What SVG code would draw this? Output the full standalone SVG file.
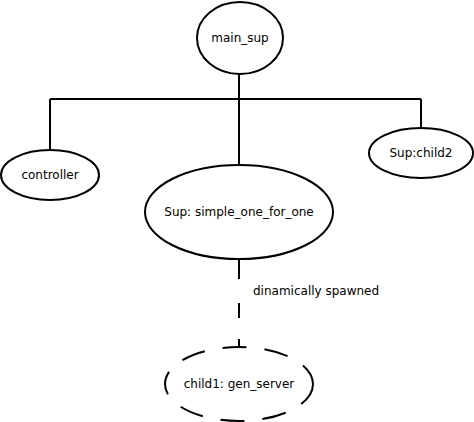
<svg xmlns="http://www.w3.org/2000/svg" width="474" height="422" viewBox="0 0 474 422">
<style>
.n{fill:#fff;stroke:#000;stroke-width:2}
.d{fill:none;stroke:#000;stroke-width:2;stroke-dasharray:20,22}
.c{fill:none;stroke:#000;stroke-width:2}
text{font-family:"DejaVu Sans",sans-serif;font-size:12px;fill:#000}
.m{text-anchor:middle}
</style>
<rect width="474" height="422" fill="#fff"/>
<g id="connectors">
<path class="c" d="M239,74 V165 M50,99 H421 M50,99 V150 M421,99 V128"/>
<path class="c" d="M239,259 V279" style="stroke-dasharray:none"/>
<path class="c" d="M239,303 V318 M239,339 V348"/>
<text x="253" y="295">dinamically spawned</text>
</g>
<g id="main_sup"><ellipse class="n" cx="240" cy="38" rx="43" ry="36"/><text class="m" x="240" y="42">main_sup</text></g>
<g id="controller"><ellipse class="n" cx="50" cy="175" rx="49" ry="25"/><text class="m" x="50" y="179">controller</text></g>
<g id="child2"><ellipse class="n" cx="421" cy="153" rx="52" ry="25"/><text class="m" x="421" y="157">Sup:child2</text></g>
<g id="simple"><ellipse class="n" cx="239" cy="212" rx="94" ry="47"/><text class="m" x="239" y="216">Sup: simple_one_for_one</text></g>
<g id="child1"><ellipse class="d" cx="239" cy="384" rx="74" ry="37" style="stroke-dasharray:24,18"/><text class="m" x="239" y="388">child1: gen_server</text></g>
</svg>
